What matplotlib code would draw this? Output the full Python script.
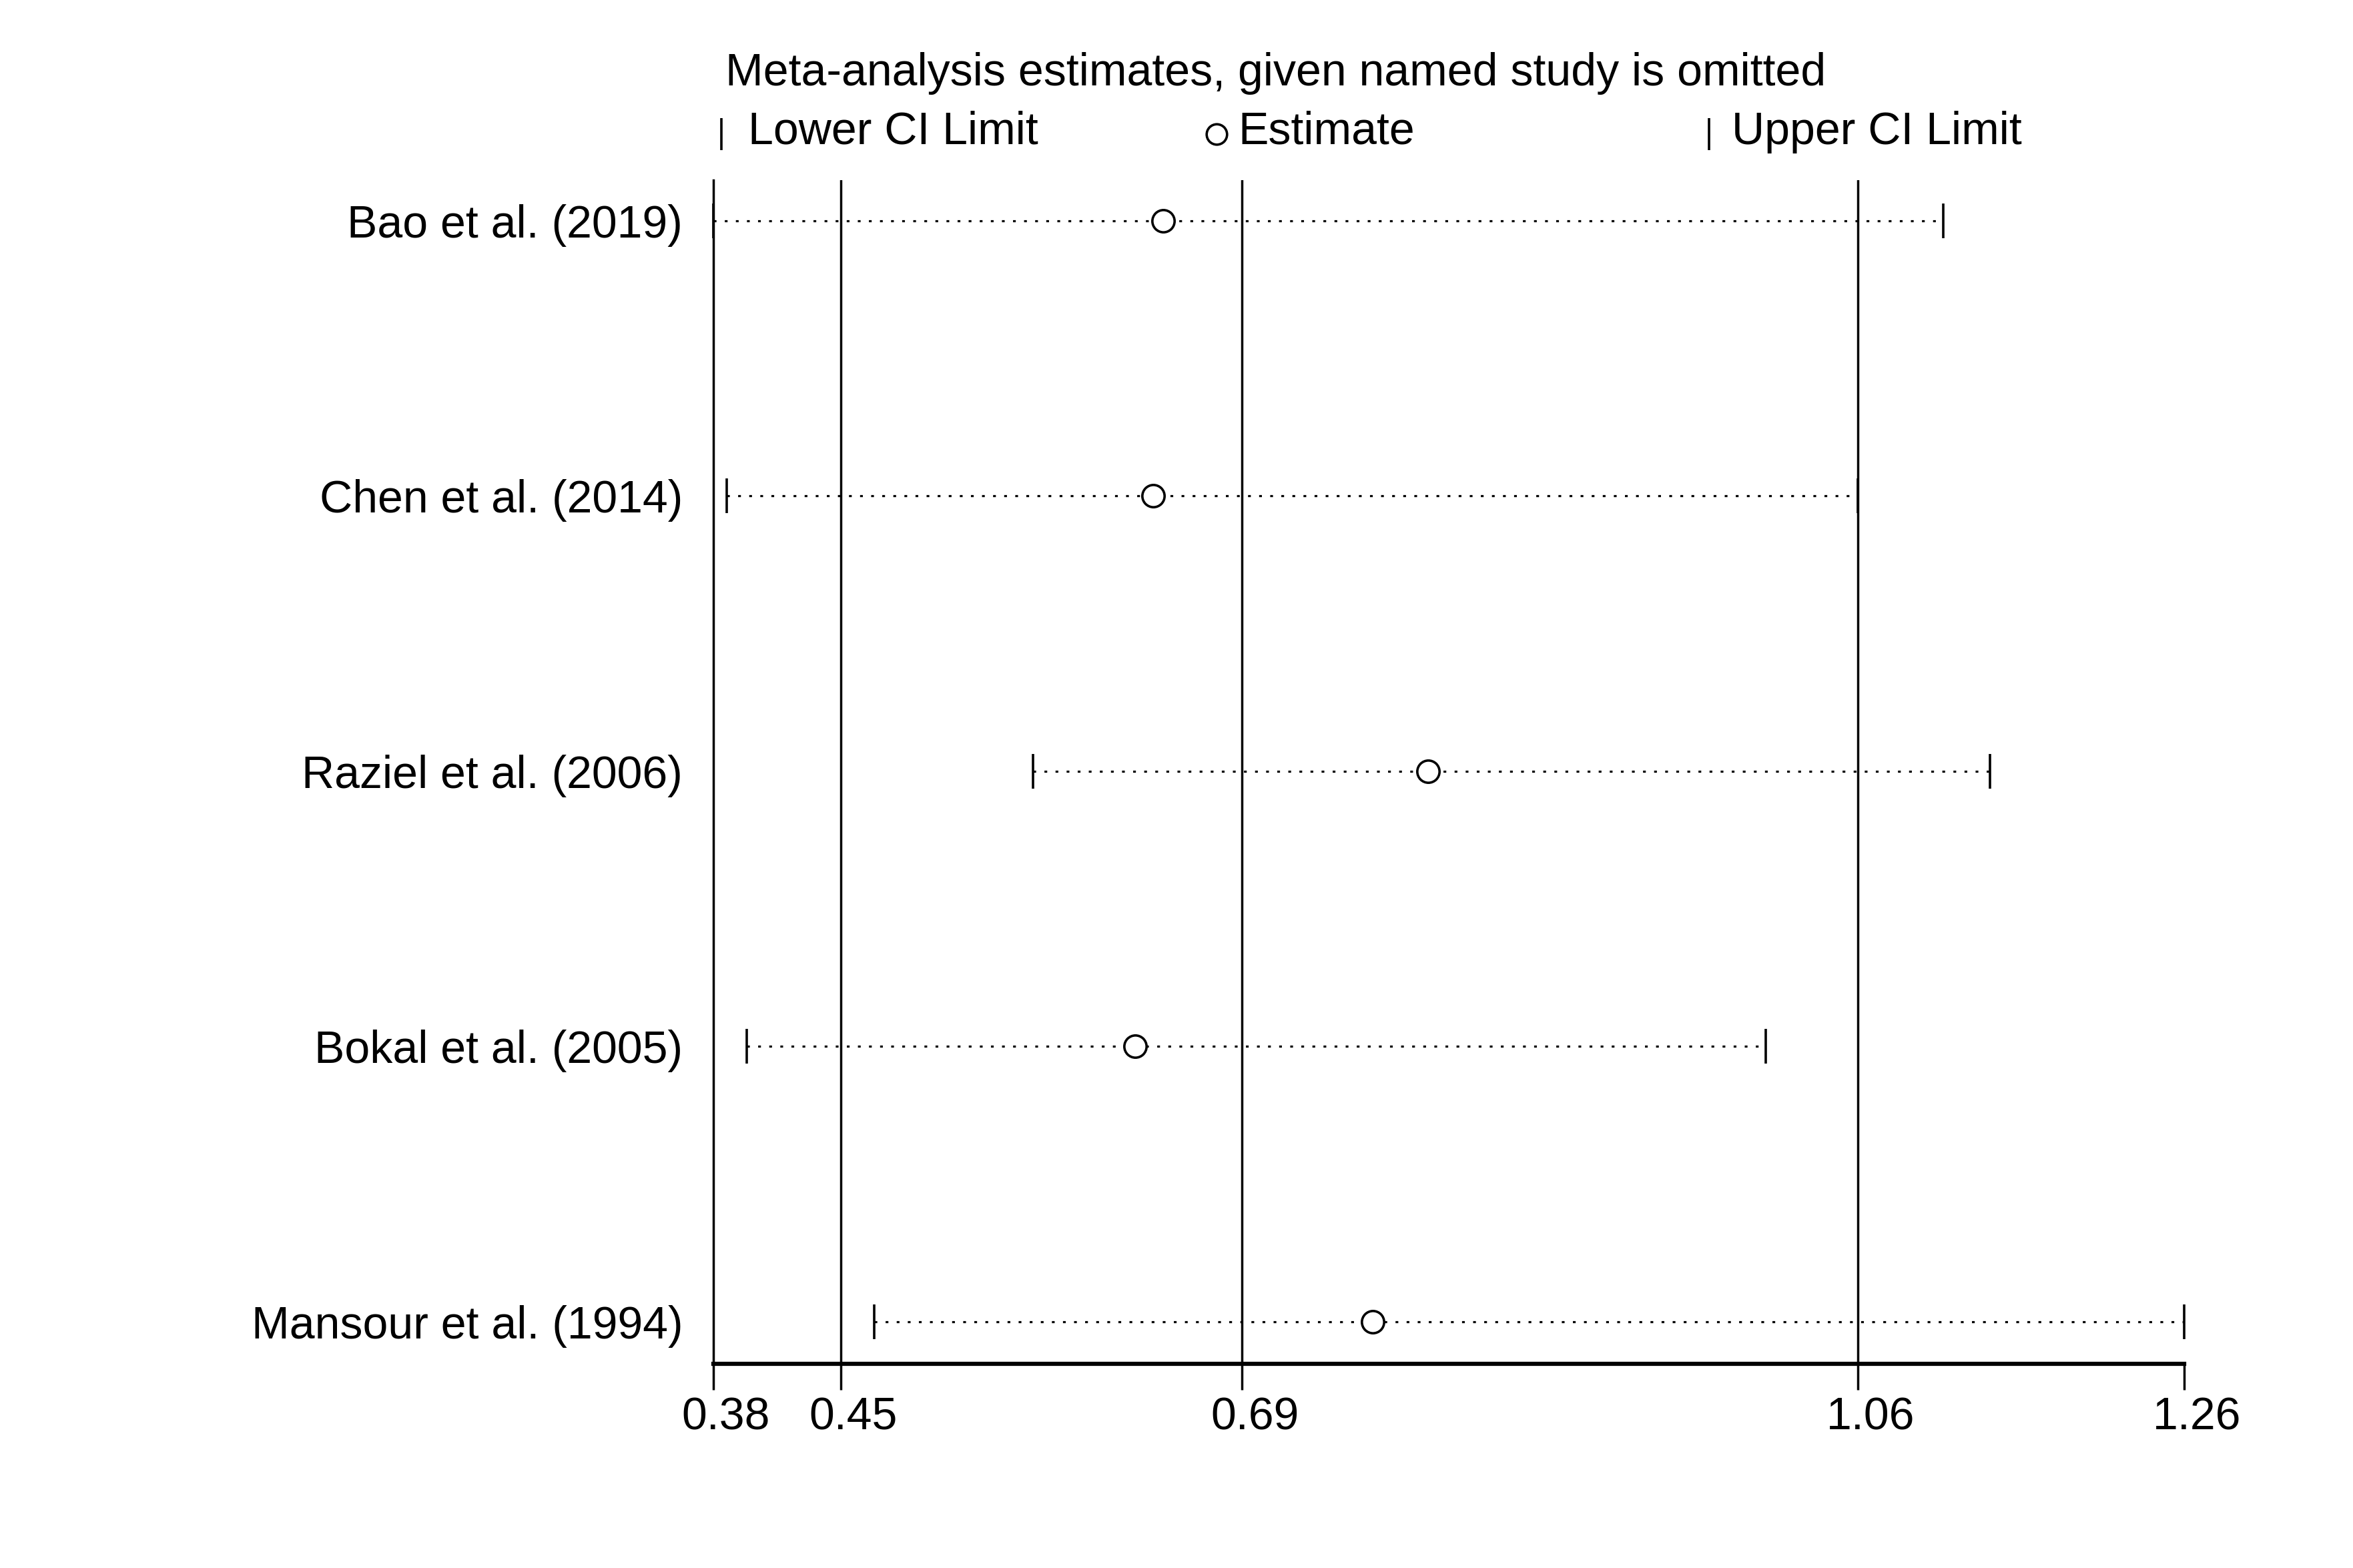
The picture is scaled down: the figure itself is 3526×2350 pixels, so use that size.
import numpy as np
import matplotlib
matplotlib.use("Agg")
import matplotlib.pyplot as plt
import matplotlib.transforms as mtransforms
from matplotlib.lines import Line2D

plt.rcParams['font.family'] = ['Liberation Sans', 'DejaVu Sans']

# leave-one-out estimates (study omitted)
studies = ["Bao et al. (2019)", "Chen et al. (2014)", "Raziel et al. (2006)",
           "Bokal et al. (2005)", "Mansour et al. (1994)"]
estimate = [0.646, 0.640, 0.804, 0.629, 0.771]
lower_ci = [0.377, 0.385, 0.568, 0.397, 0.473]
upper_ci = [1.112, 1.061, 1.140, 1.006, 1.256]

# pooled estimate with all studies
overall_lower = 0.453
overall_est = 0.693
overall_upper = 1.061

title = "Meta-analysis estimates, given named study is omitted"
FS = 49

fig = plt.figure(figsize=(35.26, 23.50), dpi=100)
ax = fig.add_axes([0.3032, 0.1302, 0.9282 - 0.3032, 0.8851 - 0.1302])

xmin, xmax = min(lower_ci), max(upper_ci)
rows = np.arange(1, len(studies) + 1)

for xv in (overall_lower, overall_est, overall_upper):
    ax.axvline(xv, color='black', lw=2.5, zorder=1)

ax.hlines(rows, lower_ci, upper_ci, colors='black', lw=2.3,
          linestyles=(0, (1.3, 3.9)), zorder=2)
ax.plot(lower_ci, rows, ls='none', marker='|', ms=37, mew=2.6, color='black',
        zorder=3, clip_on=False)
ax.plot(upper_ci, rows, ls='none', marker='|', ms=37, mew=2.6, color='black',
        zorder=3, clip_on=False)
ax.plot(estimate, rows, ls='none', marker='o', ms=24, mew=2.6, mfc='white',
        mec='black', zorder=4, clip_on=False)

ax.set_xlim(xmin, xmax)
ax.set_ylim(5.153, 0.853)

ticks = [xmin, overall_lower, overall_est, overall_upper, xmax]
ax.set_xticks(ticks)
ax.set_xticklabels([f"{t:.2f}" for t in ticks], fontsize=FS)
ax.tick_params(axis='x', length=28, width=2.5, pad=7)
# labels sit a little right of their ticks in the original
shift = mtransforms.ScaledTranslation(0.19, 0, fig.dpi_scale_trans)
for lab in ax.get_xticklabels():
    lab.set_transform(lab.get_transform() + shift)

ax.set_yticks(rows)
ax.set_yticklabels(studies, fontsize=FS)
ax.tick_params(axis='y', length=0, pad=33)

ax.spines['top'].set_visible(False)
ax.spines['right'].set_visible(False)
ax.spines['left'].set_linewidth(2.5)
ax.spines['bottom'].set_linewidth(4.5)

# title and legend row above the plot
fig.text(1087 / 3526, 1 - 128 / 2350, title, fontsize=FS, va='baseline', ha='left')

leg_y = 1 - 216 / 2350
key_y = 1 - 201 / 2350
fig.add_artist(Line2D([1081 / 3526], [key_y], transform=fig.transFigure, ls='none',
                      marker='|', ms=34, mew=2.6, color='black'))
fig.text(1121 / 3526, leg_y, "Lower CI Limit", fontsize=FS, va='baseline')
fig.add_artist(Line2D([1823 / 3526], [key_y], transform=fig.transFigure, ls='none',
                      marker='o', ms=22, mew=2.6, mfc='white', mec='black'))
fig.text(1855 / 3526, leg_y, "Estimate", fontsize=FS, va='baseline')
fig.add_artist(Line2D([2561 / 3526], [key_y], transform=fig.transFigure, ls='none',
                      marker='|', ms=34, mew=2.6, color='black'))
fig.text(2595 / 3526, leg_y, "Upper CI Limit", fontsize=FS, va='baseline')

fig.savefig("out.png", dpi=100, facecolor='white')
